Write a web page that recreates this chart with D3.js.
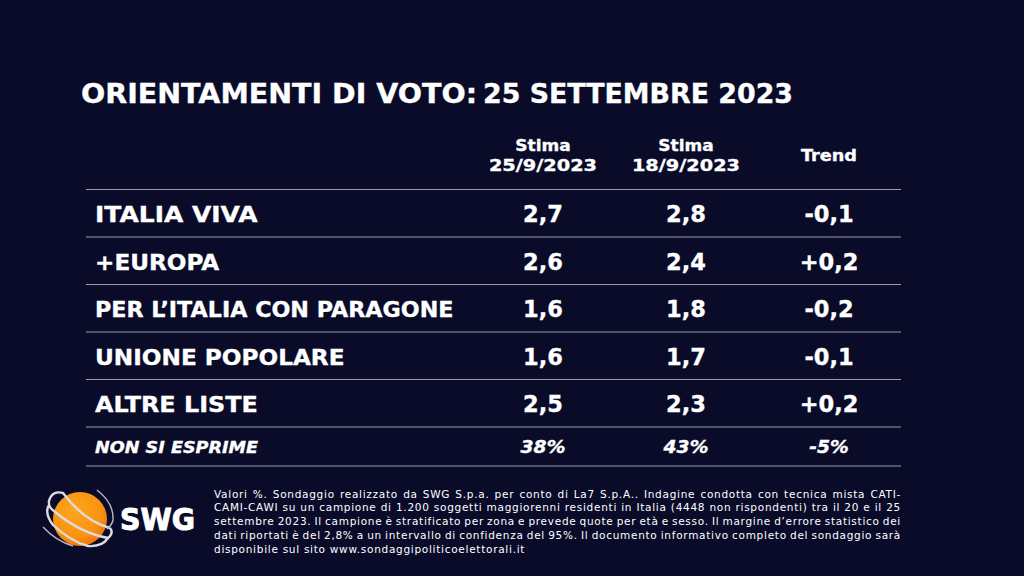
<!DOCTYPE html>
<html>
<head>
<meta charset="utf-8">
<script src="https://cdn.jsdelivr.net/npm/d3@7"></script>
<style>
html,body{margin:0;padding:0;background:#090b29;overflow:hidden}
text{font-family:"DejaVu Sans",Verdana,sans-serif;fill:#fff}
.bold{font-weight:bold;stroke:#fff;stroke-width:.35px}
</style>
</head>
<body>
<script>
const title=["ORIENTAMENTI DI VOTO:","25 SETTEMBRE 2023"]
const columns=["Stima 25/9/2023","Stima 18/9/2023","Trend"]
const parties=["ITALIA VIVA","+EUROPA","PER L\u2019ITALIA CON PARAGONE","UNIONE POPOLARE","ALTRE LISTE"]
const stima25=["2,7","2,6","1,6","1,6","2,5"]
const stima18=["2,8","2,4","1,8","1,7","2,3"]
const trend=["-0,1","+0,2","-0,2","-0,1","+0,2"]
const noVote=["NON SI ESPRIME","38%","43%","-5%"]
const note=[
"Valori %. Sondaggio realizzato da SWG S.p.a. per conto di La7 S.p.A.. Indagine condotta con tecnica mista CATI-",
"CAMI-CAWI su un campione di 1.200 soggetti maggiorenni residenti in Italia (4448 non rispondenti) tra il 20 e il 25",
"settembre 2023. Il campione \u00e8 stratificato per zona e prevede quote per et\u00e0 e sesso. Il margine d\u2019errore statistico dei",
"dati riportati \u00e8 del 2,8% a un intervallo di confidenza del 95%. Il documento informativo completo del sondaggio sar\u00e0",
"disponibile sul sito www.sondaggipoliticoelettorali.it"]

// per label stretch, the wide I of the original face hits some names more
const rowFit=[1.173,1.086,1.044,1.088,1.12]

const m={width:1024,height:576}

const svg=d3.select("body").append("svg")
    .attr("width",m.width)
    .attr("height",m.height)
    .style("display","block")

svg.append("rect").attr("width",m.width).attr("height",m.height).attr("fill","#090b29")

// DejaVu Bold is narrower than the original face, so stretch it a bit
function widen(t,f){
    t.attr("textLength",t.node().getComputedTextLength()*f).attr("lengthAdjust","spacingAndGlyphs")
    return t
}
function label(xx,yy,size,s,f,mid){
    const t=svg.append("text").attr("class","bold").attr("x",xx).attr("y",yy).attr("font-size",size).text(s)
    if(mid)t.attr("text-anchor","middle")
    return widen(t,f)
}

const titleText=svg.append("text").attr("class","bold").attr("y",102.5).attr("font-size",26)
title.forEach((s,i)=>{
    const sp=titleText.append("tspan").attr("x",i?483:81).text(s+(i?"":" "))
    sp.attr("textLength",i?310:406).attr("lengthAdjust","spacingAndGlyphs")
})

const x=d3.scalePoint().domain(columns).range([543,829])
const y=d3.scaleBand().domain(parties).range([189.5,427])

// header
columns.forEach(c=>{
    const parts=c.split(" ")
    if(parts.length==2){
        label(x(c),150.5,16.5,parts[0],1.03,true)
        label(x(c),171,16.5,parts[1],1.17,true)
    } else {
        label(x(c),160.5,16.5,c,1.07,true)
    }
})

// rules
const ruleY=[...parties.map(p=>y(p)),y.range()[1],466]
svg.selectAll("line.rule").data(ruleY).enter().append("line")
    .attr("class","rule")
    .attr("x1",86).attr("x2",901)
    .attr("y1",d=>d).attr("y2",d=>d)
    .attr("stroke","#9a9bb0").attr("stroke-width",1)

// rows
parties.forEach((p,i)=>{
    const cy=y(p)+y.bandwidth()/2+9
    label(95,cy,21.3,p,rowFit[i])
    ;[stima25,stima18,trend].forEach((s,j)=>{
        label(x(columns[j]),cy,22.5,s[i],1.0,true)
    })
})

// non si esprime
label(95,453,16,noVote[0],1.10).attr("font-style","italic")
columns.forEach((c,j)=>{
    label(x(c),453,17.5,noVote[j+1],1.07,true).attr("font-style","italic")
})

// footnote, justified like the original
const noteY=d3.scaleLinear().domain([0,4]).range([497.5,552.5])
note.forEach((l,i)=>{
    const t=svg.append("text").attr("x",214).attr("y",noteY(i)).attr("font-size",10.5)
        .style("letter-spacing",".72px").text(l)
    if(i<note.length-1){
        const w=t.node().getComputedTextLength()
        const n=l.split(" ").length-1
        t.style("word-spacing",((901-214-w)/n)+"px")
    }
})

// logo
const defs=svg.append("defs")
const grad=defs.append("radialGradient").attr("id","ball").attr("cx","40%").attr("cy","35%").attr("r","75%")
grad.append("stop").attr("offset","0%").attr("stop-color","#ffa51c")
grad.append("stop").attr("offset","65%").attr("stop-color","#f9930f")
grad.append("stop").attr("offset","100%").attr("stop-color","#ee6a0c")

const logo=svg.append("g").attr("transform","translate(80,519)")
logo.append("circle").attr("r",27).attr("fill","url(#ball)")
const bands=logo.append("g").attr("fill","none").attr("stroke","#dcdcdf").attr("stroke-width",2.4)
bands.append("path").attr("d","M30,9 Q4,2 -17,-26 Q-28,-29 -31,-18 Q-32,-12 -26,-8 Q0,14 28,19 Q34,14 30,9")
bands.append("path").attr("d","M-31,-14 Q-36,-6 -27,6 Q-10,22 8,27 Q22,28 28,19")
const swoosh=logo.append("g").attr("fill","none").attr("stroke","#b9b9c0").attr("stroke-width",1.4)
swoosh.append("path").attr("d","M17,-29 Q34,-16 33,1 Q32,6 27,10")
swoosh.append("path").attr("d","M-37,8 Q-24,22 -7,27")
svg.append("text").attr("class","bold").attr("x",120).attr("y",530).attr("font-size",30)
    .attr("textLength",75).attr("lengthAdjust","spacingAndGlyphs").style("stroke-width","1px").text("SWG")
</script>
</body>
</html>
